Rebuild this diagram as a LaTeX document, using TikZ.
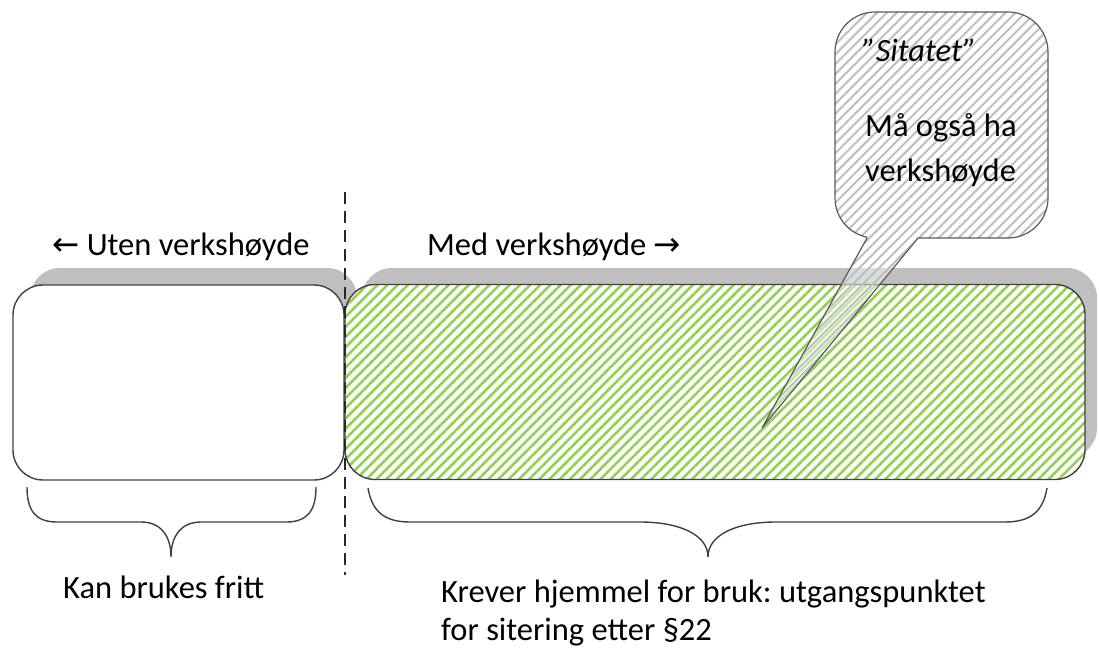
\documentclass[tikz,border=0pt]{standalone}
\usepackage{fontspec}
\setmainfont{Carlito}
\newfontfamily\arrowfont{DejaVu Sans}
\frenchspacing
\usetikzlibrary{patterns.meta}
\definecolor{shadowgray}{RGB}{191,191,191}
\definecolor{linegray}{RGB}{64,64,64}
\definecolor{dashgray}{RGB}{40,40,40}
\definecolor{stripegreen}{RGB}{146,208,80}
\definecolor{hatchgray}{RGB}{190,190,190}
\definecolor{calloutline}{RGB}{90,90,90}
\begin{document}
\begin{tikzpicture}[x=1pt,y=1pt,
  box/.style={draw=linegray, line width=1.4pt, rounded corners=30pt, inner sep=0pt, minimum height=195pt},
  shadowbox/.style={fill=shadowgray, rounded corners=30pt},
  lbl/.style={anchor=base west, inner sep=0pt, font=\fontsize{32.5}{39}\selectfont},
  brace/.style={draw=linegray, line width=1.4pt},
  divider/.style={draw=dashgray, line width=2.4pt, dash pattern=on 12pt off 7pt},
  callout/.style={draw=calloutline, line width=1.2pt, preaction={fill=white, fill opacity=0.45},
    pattern={Lines[angle=45,distance=7pt,line width=2pt]}, pattern color=hatchgray}]
\useasboundingbox (0,0) rectangle (1099,-652);

% shadows
\path[shadowbox] (30,-268) rectangle (357,-460);
\path[shadowbox] (362,-268) rectangle (1097,-458);

% boxes
\node[box, fill=white, minimum width=331pt] (free) at (178.5,-382.5) {};
\node[box, minimum width=740pt, preaction={fill=white},
  pattern={Lines[angle=45,distance=7.2pt,line width=2.6pt]}, pattern color=stripegreen] (quote) at (715,-382) {};

% divider
\coordinate (dtop) at (345,-192);
\coordinate (dbot) at (345,-575);
\draw[divider] (dtop) -- (dbot);

% braces
\draw[brace] (27,-487) .. controls (27,-510) and (35,-522) .. (57,-522) -- (141,-522)
  .. controls (160,-522) and (171,-535) .. (171,-557)
  .. controls (171,-535) and (182,-522) .. (201,-522) -- (286,-522)
  .. controls (308,-522) and (316,-510) .. (316,-487);
\draw[brace] (368,-488) .. controls (372,-512) and (385,-522) .. (410,-522) -- (640,-522)
  .. controls (680,-522) and (708,-535) .. (708,-557)
  .. controls (708,-535) and (736,-522) .. (776,-522) -- (1005,-522)
  .. controls (1030,-522) and (1043,-512) .. (1047,-488);

% labels
\node[lbl] (uten) at (52,-255) {{\arrowfont ←} Uten verkshøyde};
\node[lbl] (med) at (427,-255) {Med verkshøyde {\arrowfont →}};
\node[lbl] (fritt) at (63,-598) {Kan brukes fritt};
\node[lbl] (krever1) at (441,-602) {Krever hjemmel for bruk: utgangspunktet};
\node[lbl] (krever2) at (441,-640) {for sitering etter §22};

% callout
\draw[callout] (867,-238) -- (762,-428) -- (918,-238) -- (1008,-238)
  arc[start angle=-90, end angle=0, radius=40] -- (1048,-52)
  arc[start angle=0, end angle=90, radius=40] -- (875,-12)
  arc[start angle=90, end angle=180, radius=40] -- (835,-198)
  arc[start angle=180, end angle=258, radius=40] -- cycle;
\node[lbl] (sitatet) at (862,-62) {\itshape ”Sitatet”};
\node[lbl] (maa) at (865,-137) {Må også ha};
\node[lbl] (verk) at (865,-182) {verkshøyde};
\end{tikzpicture}
\end{document}
